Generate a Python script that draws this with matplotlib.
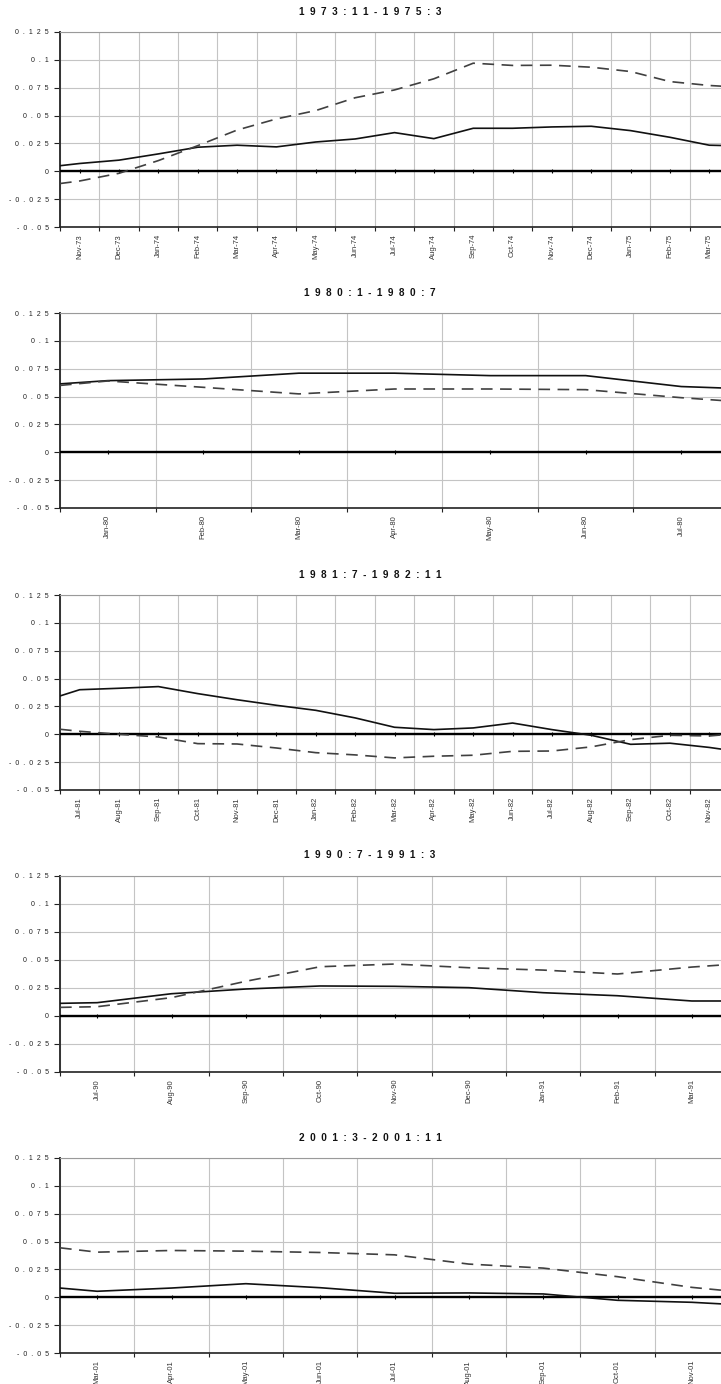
import matplotlib
matplotlib.use("Agg")
import matplotlib.pyplot as plt
import numpy as np

plt.rcParams['font.family'] = ['Liberation Sans', 'DejaVu Sans']

# values: first = left edge of axis, then one per month (category centre), last = right edge
title1 = "1973:11-1975:3"
months1 = ["Nov-73", "Dec-73", "Jan-74", "Feb-74", "Mar-74", "Apr-74", "May-74", "Jun-74",
           "Jul-74", "Aug-74", "Sep-74", "Oct-74", "Nov-74", "Dec-74", "Jan-75", "Feb-75", "Mar-75"]
solid1 = [0.005, 0.007, 0.010, 0.0156, 0.0216, 0.0234, 0.0219, 0.0263, 0.029, 0.0347, 0.0293,
          0.0386, 0.0386, 0.0398, 0.0404, 0.0365, 0.0305, 0.0234, 0.023]
dashed1 = [-0.011, -0.0087, -0.0018, 0.0096, 0.023, 0.037, 0.047, 0.0545, 0.066, 0.073, 0.083,
           0.097, 0.095, 0.0952, 0.0934, 0.0895, 0.0805, 0.077, 0.076]

title2 = "1980:1-1980:7"
months2 = ["Jan-80", "Feb-80", "Mar-80", "Apr-80", "May-80", "Jun-80", "Jul-80"]
solid2 = [0.0614, 0.0643, 0.0658, 0.071, 0.071, 0.0688, 0.0688, 0.059, 0.0575]
dashed2 = [0.060, 0.064, 0.0583, 0.0524, 0.0568, 0.0568, 0.0562, 0.049, 0.046]

title3 = "1981:7-1982:11"
months3 = ["Jul-81", "Aug-81", "Sep-81", "Oct-81", "Nov-81", "Dec-81", "Jan-82", "Feb-82", "Mar-82",
           "Apr-82", "May-82", "Jun-82", "Jul-82", "Aug-82", "Sep-82", "Oct-82", "Nov-82"]
solid3 = [0.0344, 0.040, 0.0413, 0.0428, 0.0365, 0.031, 0.026, 0.0215, 0.0147, 0.0063, 0.0042,
          0.0057, 0.0101, 0.0042, -0.0009, -0.009, -0.008, -0.0118, -0.0143]
dashed3 = [0.0045, 0.0027, 0.0, -0.0024, -0.0084, -0.0087, -0.0123, -0.0165, -0.0185, -0.0212,
           -0.0197, -0.0188, -0.0153, -0.015, -0.0113, -0.0048, -0.0009, -0.0015, 0.0]

title4 = "1990:7-1991:3"
months4 = ["Jul-90", "Aug-90", "Sep-90", "Oct-90", "Nov-90", "Dec-90", "Jan-91", "Feb-91", "Mar-91"]
solid4 = [0.0113, 0.0119, 0.0199, 0.0241, 0.0268, 0.0265, 0.0253, 0.0208, 0.0181, 0.0134, 0.0134]
dashed4 = [0.0077, 0.0083, 0.0164, 0.031, 0.044, 0.0464, 0.0431, 0.041, 0.0375, 0.0437, 0.046]

title5 = "2001:3-2001:11"
months5 = ["Mar-01", "Apr-01", "May-01", "Jun-01", "Jul-01", "Aug-01", "Sep-01", "Oct-01", "Nov-01"]
solid5 = [0.0083, 0.0054, 0.0083, 0.0122, 0.0086, 0.0036, 0.0039, 0.003, -0.0027, -0.0045, -0.0063]
dashed5 = [0.0444, 0.0405, 0.042, 0.0414, 0.0402, 0.0381, 0.0298, 0.0262, 0.0185, 0.0089, 0.0057]

yticks = [0.125, 0.1, 0.075, 0.05, 0.025, 0, -0.025, -0.05]
ylabels = ["0.125", "0.1", "0.075", "0.05", "0.025", "0", "-0.025", "-0.05"]

panels = [
    (title1, months1, solid1, dashed1, 12, 32, 227),
    (title2, months2, solid2, dashed2, 293, 313, 508),
    (title3, months3, solid3, dashed3, 575, 595, 790),
    (title4, months4, solid4, dashed4, 855, 876, 1072),
    (title5, months5, solid5, dashed5, 1138, 1158, 1353),
]

W, H = 721, 1384
fig = plt.figure(figsize=(W / 100, H / 100), dpi=100)
fig.patch.set_facecolor("white")

def spaced(s, sep=" "):
    return sep.join(list(s))

for title, months, solid, dashed, ty, top, bot in panels:
    n = len(months)
    ax = fig.add_axes([60 / W, 1 - bot / H, 669 / W, (bot - top) / H])
    centres = np.arange(n) + 0.5
    x = np.concatenate([[0], centres, [n]])

    ax.plot(x, solid, color="#111111", lw=1.2, zorder=4)
    ax.plot(x, dashed, color="#404040", lw=1.2, dashes=(7, 4.5), zorder=4)
    ax.axhline(0, color="black", lw=1.7, zorder=3)
    ax.plot(centres, np.zeros(n), ls="none", marker="|", ms=2.5, mew=0.8, color="black", zorder=3)

    ax.set_xlim(0, n)
    ax.set_ylim(-0.05, 0.125)
    ax.set_xticks(np.arange(n + 1))
    ax.set_xticklabels([])
    ax.set_xticks(centres, minor=True)
    ax.set_xticklabels(months, minor=True, rotation=90, fontsize=5.5, color="#333333", va="top")
    ax.tick_params(axis="x", which="minor", length=0, pad=5)
    ax.tick_params(axis="x", which="major", length=3, width=0.8, color="#222222", direction="out")
    ax.set_yticks(yticks)
    ax.set_yticklabels([spaced(l, "  ") for l in ylabels], fontsize=5, color="#222222")
    ax.tick_params(axis="y", length=4, width=0.8, color="#222222", direction="out", pad=4)

    ax.grid(True, which="major", color="#c4c4c4", lw=0.8)
    ax.set_axisbelow(True)
    ax.spines["right"].set_visible(False)
    ax.spines["top"].set_color("#9a9a9a")
    ax.spines["top"].set_linewidth(0.8)
    ax.spines["left"].set_color("#333333")
    ax.spines["left"].set_linewidth(1.4)
    ax.spines["bottom"].set_color("#222222")
    ax.spines["bottom"].set_linewidth(1.2)

    fig.text(370 / W, 1 - ty / H, spaced(title, "  "), ha="center", va="center",
             fontsize=7.2, fontweight="bold", color="#111111")

fig.savefig("out.png", dpi=100, facecolor="white")
